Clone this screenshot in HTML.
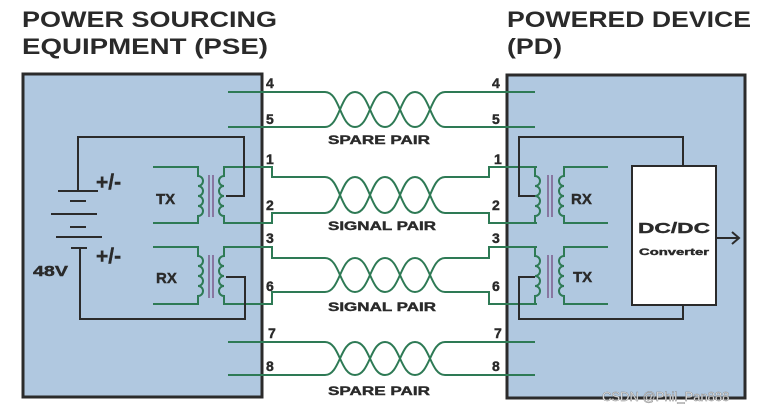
<!DOCTYPE html>
<html><head><meta charset="utf-8"><style>
html,body{margin:0;padding:0;background:#fff;}
svg{display:block;}
text{font-family:"Liberation Sans",sans-serif;font-weight:bold;}
</style></head><body>
<svg width="774" height="413" viewBox="0 0 774 413" xmlns="http://www.w3.org/2000/svg">
<rect width="774" height="413" fill="#fff"/>
<!-- titles -->
<text x="22" y="27" font-size="22" fill="#2a2a2a" textLength="255" lengthAdjust="spacingAndGlyphs">POWER SOURCING</text>
<text x="22" y="54" font-size="22" fill="#2a2a2a" textLength="246" lengthAdjust="spacingAndGlyphs">EQUIPMENT (PSE)</text>
<text x="507" y="27" font-size="22" fill="#2a2a2a" textLength="244" lengthAdjust="spacingAndGlyphs">POWERED DEVICE</text>
<text x="507" y="54" font-size="22" fill="#2a2a2a" textLength="55" lengthAdjust="spacingAndGlyphs">(PD)</text>
<!-- boxes -->
<rect x="23" y="74" width="239" height="323" fill="#b0c8e0" stroke="#2b2b2b" stroke-width="3"/>
<rect x="507" y="75" width="238" height="323" fill="#b0c8e0" stroke="#2b2b2b" stroke-width="3"/>

<g fill="none" stroke="#2e7a55" stroke-width="2">
<path d="M228,92 H325 C340,92 340,127 355,127 C370,127 370,92 385,92 C400,92 400,127 415,127 C430,127 430,92 445,92 H535"/>
<path d="M228,127 H325 C340,127 340,92 355,92 C370,92 370,127 385,127 C400,127 400,92 415,92 C430,92 430,127 445,127 H535"/>
<path d="M228,342 H325 C340,342 340,375 355,375 C370,375 370,342 385,342 C400,342 400,375 415,375 C430,375 430,342 445,342 H535"/>
<path d="M228,375 H325 C340,375 340,342 355,342 C370,342 370,375 385,375 C400,375 400,342 415,342 C430,342 430,375 445,375 H535"/>
<path d="M228,167 H272 V177 H325 C340,177 340,213 355,213 C370,213 370,177 385,177 C400,177 400,213 415,213 C430,213 430,177 445,177 H489 V167 H537"/>
<path d="M228,223 H272 V213 H325 C340,213 340,177 355,177 C370,177 370,213 385,213 C400,213 400,177 415,177 C430,177 430,213 445,213 H489 V223 H537"/>
<path d="M228,247 H272 V258 H325 C340,258 340,292 355,292 C370,292 370,258 385,258 C400,258 400,292 415,292 C430,292 430,258 445,258 H489 V247 H537"/>
<path d="M228,304 H272 V292 H325 C340,292 340,258 355,258 C370,258 370,292 385,292 C400,292 400,258 415,258 C430,258 430,292 445,292 H489 V304 H537"/>
<path d="M153,167 H198 V176 a5,5 0 1 1 0,10 a5,5 0 1 1 0,10 a5,5 0 1 1 0,10 a5,5 0 1 1 0,10 V223 H153"/>
<path d="M228,167 H224 V176 a5,5 0 1 0 0,10 a5,5 0 1 0 0,10 a5,5 0 1 0 0,10 a5,5 0 1 0 0,10 V223 H228"/>
<path d="M153,247 H198 V256 a5,5 0 1 1 0,10 a5,5 0 1 1 0,10 a5,5 0 1 1 0,10 a5,5 0 1 1 0,10 V304 H153"/>
<path d="M228,247 H224 V256 a5,5 0 1 0 0,10 a5,5 0 1 0 0,10 a5,5 0 1 0 0,10 a5,5 0 1 0 0,10 V304 H228"/>
<path d="M537,167 H535 V176 a5,5 0 1 1 0,10 a5,5 0 1 1 0,10 a5,5 0 1 1 0,10 a5,5 0 1 1 0,10 V223 H537"/>
<path d="M608,167 H564 V176 a5,5 0 1 0 0,10 a5,5 0 1 0 0,10 a5,5 0 1 0 0,10 a5,5 0 1 0 0,10 V223 H608"/>
<path d="M537,247 H535 V256 a5,5 0 1 1 0,10 a5,5 0 1 1 0,10 a5,5 0 1 1 0,10 a5,5 0 1 1 0,10 V304 H537"/>
<path d="M608,247 H564 V256 a5,5 0 1 0 0,10 a5,5 0 1 0 0,10 a5,5 0 1 0 0,10 a5,5 0 1 0 0,10 V304 H608"/>
</g>
<g stroke="#7a5a8a" stroke-width="1.5">
<line x1="209" y1="175" x2="209" y2="217"/><line x1="213" y1="175" x2="213" y2="217"/>
<line x1="209" y1="255" x2="209" y2="298"/><line x1="213" y1="255" x2="213" y2="298"/>
<line x1="548" y1="175" x2="548" y2="217"/><line x1="552" y1="175" x2="552" y2="217"/>
<line x1="548" y1="255" x2="548" y2="298"/><line x1="552" y1="255" x2="552" y2="298"/>
</g>
<g fill="none" stroke="#2b2b2b" stroke-width="2">
<path d="M78,191 V137 H244 V196 H226"/>
<path d="M80,248 V319 H245 V277 H226"/>
<path d="M535,196 H519 V137 H683 V166"/>
<path d="M535,277 H519 V319 H683 V305"/>
<line x1="58" y1="191" x2="98" y2="191"/>
<line x1="70" y1="201" x2="86" y2="201"/>
<line x1="51" y1="214" x2="97" y2="214"/>
<line x1="70" y1="227" x2="86" y2="227"/>
<line x1="56" y1="237" x2="102" y2="237"/>
<line x1="71" y1="248" x2="87" y2="248"/>
<path d="M716,238 H739 M732,232 L739,238 L732,244"/>
</g>
<rect x="632" y="166" width="84" height="139" fill="#fff" stroke="#2b2b2b" stroke-width="2"/>
<g fill="#2a2a2a" stroke="#2a2a2a" stroke-width="0.4">
<text x="96" y="189" font-size="21">+/-</text>
<text x="96" y="263" font-size="21">+/-</text>
<text x="33" y="276" font-size="15" textLength="35" lengthAdjust="spacingAndGlyphs">48V</text>
<text x="156" y="204" font-size="15">TX</text>
<text x="156" y="283" font-size="15">RX</text>
<text x="571" y="204" font-size="15">RX</text>
<text x="573" y="282" font-size="15">TX</text>
<text x="638" y="233" font-size="15" textLength="72" lengthAdjust="spacingAndGlyphs">DC/DC</text>
<text x="639" y="255" font-size="9" textLength="70" lengthAdjust="spacingAndGlyphs">Converter</text>
<text x="328" y="144" font-size="12" textLength="102" lengthAdjust="spacingAndGlyphs">SPARE PAIR</text>
<text x="328" y="230" font-size="12" textLength="108" lengthAdjust="spacingAndGlyphs">SIGNAL PAIR</text>
<text x="328" y="311" font-size="12" textLength="108" lengthAdjust="spacingAndGlyphs">SIGNAL PAIR</text>
<text x="328" y="395" font-size="12" textLength="102" lengthAdjust="spacingAndGlyphs">SPARE PAIR</text>
<g font-size="14">
<text x="266" y="88">4</text><text x="266" y="124">5</text>
<text x="266" y="164">1</text><text x="266" y="210">2</text>
<text x="266" y="243">3</text><text x="266" y="291">6</text>
<text x="268" y="338">7</text><text x="266" y="371">8</text>
<text x="492" y="88">4</text><text x="492" y="124">5</text>
<text x="494" y="164">1</text><text x="492" y="210">2</text>
<text x="492" y="243">3</text><text x="492" y="291">6</text>
<text x="494" y="338">7</text><text x="492" y="371">8</text>
</g>
</g>
<text x="602" y="401" font-size="13" fill="#ffffff" stroke="#888" stroke-width="0.5" style="font-weight:normal">CSDN @Phil_Pan888</text>
</svg>
</body></html>
